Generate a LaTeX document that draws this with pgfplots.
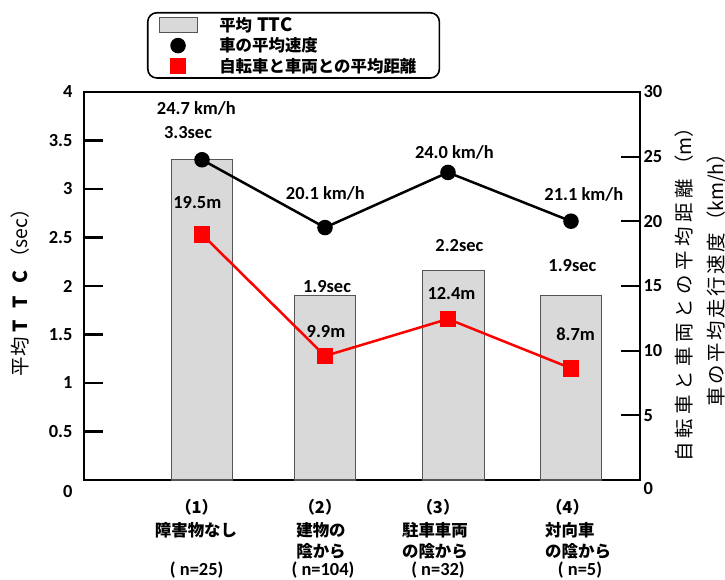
\documentclass[border=0pt]{standalone}
\usepackage{fontspec}
\setmainfont{Carlito}
\newfontfamily\jp{Noto Sans CJK JP}
\usepackage{pgfplots}
\pgfplotsset{compat=1.18}
\definecolor{barfill}{RGB}{217,217,217}
\definecolor{baredge}{RGB}{85,85,85}
\newcommand{\lat}{\bfseries\fontsize{18.5}{20}\selectfont}
\newcommand{\cj}{\jp\bfseries\fontsize{16.5}{19}\selectfont}
\newcommand{\cjt}{\jp\fontsize{19.5}{21}\selectfont}
\newcommand{\sk}{\kern4.5bp}
\newcommand{\skk}{\kern2.5bp}
\pgfplotsset{
  common/.style={
    at={(0bp,0bp)}, anchor=south west, scale only axis,
    width=556bp, height=388bp,
    xmin=0.0407, xmax=4.561,
    ytick align=inside,
    major tick length=19bp,
    ytick style={draw=black, line width=2.2bp},
    axis line style={black, line width=2bp},
    /pgf/number format/assume math mode=true,
    clip=false,
  },
  markleg/.style={legend image code/.code={%
    \draw[##1] plot[only marks] coordinates {(19bp,0bp)};
    \path (0bp,0bp) (59bp,0bp);}},
  barleg/.style={legend image code/.code={%
    \draw[sharp corners, fill=barfill, draw=baredge, line width=1bp] (0bp,-7.5bp) rectangle (38bp,7.5bp);
    \path (59bp,0bp);}},
}
\begin{document}
\begin{tikzpicture}
\path[use as bounding box] (-84bp,-100bp) rectangle (641bp,480bp);
% ---------- inward tick marks drawn first ----------
\draw[black, line width=2.2bp] (0bp,48.5bp) -- (19bp,48.5bp);
\draw[black, line width=2.2bp] (0bp,97bp) -- (19bp,97bp);
\draw[black, line width=2.2bp] (0bp,145.5bp) -- (19bp,145.5bp);
\draw[black, line width=2.2bp] (0bp,194bp) -- (19bp,194bp);
\draw[black, line width=2.2bp] (0bp,242.5bp) -- (19bp,242.5bp);
\draw[black, line width=2.2bp] (0bp,291bp) -- (19bp,291bp);
\draw[black, line width=2.2bp] (0bp,339.5bp) -- (19bp,339.5bp);
\draw[black, line width=2.2bp] (537bp,64.7bp) -- (556bp,64.7bp);
\draw[black, line width=2.2bp] (537bp,129.3bp) -- (556bp,129.3bp);
\draw[black, line width=2.2bp] (537bp,194bp) -- (556bp,194bp);
\draw[black, line width=2.2bp] (537bp,258.7bp) -- (556bp,258.7bp);
\draw[black, line width=2.2bp] (537bp,323.3bp) -- (556bp,323.3bp);
% ---------- left axis: bars ----------
\begin{axis}[common,
  ymin=0, ymax=4,
  xtick=\empty,
  ytick={0.5,1,1.5,2,2.5,3,3.5,4},
  extra y ticks={0},
  extra y tick style={yticklabel style={yshift=-12bp}},
  ytick pos=left,
  yticklabel style={font=\lat, xshift=-8bp},
]
\addplot[ybar, bar width=61.5bp, fill=barfill, draw=baredge, line width=1.2bp]
  coordinates {(1,3.30) (2,1.90) (3.045,2.16) (4,1.90)};
\end{axis}
% ---------- right axis: lines ----------
\begin{axis}[common,
  ymin=0, ymax=30,
  axis x line=none, axis y line*=right,
  ytick={5,10,15,20,25,30},
  extra y ticks={0},
  extra y tick style={yticklabel style={yshift=-9bp}},
  yticklabel style={font=\lat},
  legend style={at={(axis description cs:0.1133,1.2062)}, anchor=north west,
    draw=black, line width=1.6bp, rounded corners=9bp,
    inner xsep=10bp, inner ysep=4bp, row sep=5bp, font=\cj,
    nodes={inner sep=0bp}},
  legend cell align=left,
]
\addlegendimage{barleg}
\addlegendentry{平均\kern5bp{\lat TTC}}
\addplot[black, line width=2.5bp, mark=*, mark size=6.5bp, mark options={fill=black, sharp corners}, markleg]
  coordinates {(1,24.76) (2,19.52) (3,23.78) (4,20.01)};
\addlegendentry{車の平均速度}
\addplot[red, line width=2.5bp, mark=square*, mark size=7bp, mark options={fill=red, sharp corners}, markleg]
  coordinates {(1,19.0) (2,9.59) (3,12.45) (4,8.64)};
\addlegendentry{自転車と車両との平均距離\kern13bp}
\end{axis}
\begin{scope}[x=1bp,y=1bp]
% ---------- value labels ----------
\begin{scope}[every node/.style={font=\lat, inner sep=0bp}]
\node at (112.3,371.1) {24.7 km/h};
\node at (104,347.8) {3.3sec};
\node at (113.3,277) {19.5m};
\node at (241.3,287) {20.1 km/h};
\node at (370.4,327.9) {24.0 km/h};
\node at (499.8,285.7) {21.1 km/h};
\node at (375.4,234.5) {2.2sec};
\node at (488.4,214.2) {1.9sec};
\node at (243,193.5) {1.9sec};
\node at (367.5,186.7) {12.4m};
\node at (242,148.3) {9.9m};
\node at (491.6,146) {8.7m};
\end{scope}
% ---------- category labels ----------
\begin{scope}[every node/.style={font=\cj, inner sep=0bp}]
\node at (112.7,-27) {（1）};
\node at (112,-50) {障害物なし};
\node[font=\lat] at (112.7,-90) {( n=25)};
\node at (236,-27) {（2）};
\node at (237,-50) {建物の};
\node at (237,-71.7) {陰から};
\node[font=\lat] at (239,-90) {( n=104)};
\node at (354,-27) {（3）};
\node at (351,-50) {駐車車両};
\node at (351,-71.7) {の陰から};
\node[font=\lat] at (354,-90) {( n=32)};
\node at (483.5,-27) {（4）};
\node[anchor=west] at (461,-50) {対向車};
\node[anchor=west] at (461,-71.7) {の陰から};
\node[font=\lat] at (496,-90) {( n=5)};
\end{scope}
% ---------- axis titles ----------
\node[rotate=90, inner sep=0bp, font=\cjt] at (-64,192) {平\kern1bp 均\kern4bp {\bfseries T\kern12bp T\kern12bp C}\kern3bp（sec）};
\node[rotate=90, inner sep=0bp, font=\cjt] at (600,190) {自\sk 転\sk 車\sk と\sk 車\sk 両\sk と\sk の\sk 平\sk 均\sk 距\sk 離\sk（m）};
\node[rotate=90, inner sep=0bp, font=\cjt] at (633,205) {車\skk の\skk 平\skk 均\skk 走\skk 行\skk 速\skk 度\skk（km/h）};
\end{scope}
\end{tikzpicture}
\end{document}
